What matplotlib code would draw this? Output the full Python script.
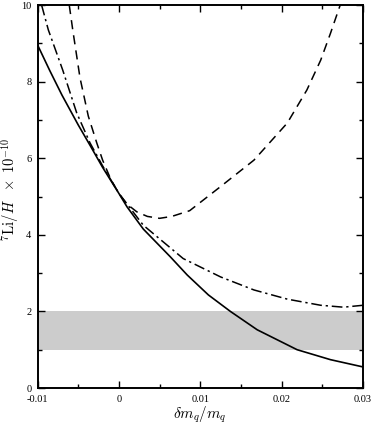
import matplotlib
matplotlib.use("Agg")
import matplotlib.pyplot as plt
from matplotlib.ticker import MultipleLocator, FixedLocator

plt.rcParams['font.family'] = ['Liberation Serif', 'DejaVu Serif']
plt.rcParams['mathtext.fontset'] = 'cm'

# data
solid_x = [-0.01, -0.0085, -0.007, -0.005, -0.0035, -0.002, 0.0, 0.001, 0.003,
           0.0063, 0.0084, 0.011, 0.0137, 0.017, 0.0219, 0.026, 0.03]
solid_y = [8.96, 8.29, 7.65, 6.87, 6.32, 5.76, 5.08, 4.73, 4.15,
           3.43, 2.95, 2.43, 2.0, 1.52, 1.0, 0.74, 0.55]

dashed_x = [-0.0061, -0.00567, -0.00478, -0.00376, -0.00272, -0.002, -0.001, 0.0,
            0.001, 0.0022, 0.0035, 0.005, 0.0065, 0.0087, 0.0125, 0.0166, 0.0207,
            0.0231, 0.0248, 0.026, 0.0272]
dashed_y = [10.0, 9.35, 8.1, 7.1, 6.4, 5.95, 5.45, 5.08,
            4.8, 4.6, 4.48, 4.43, 4.48, 4.63, 5.26, 5.95, 6.92,
            7.78, 8.56, 9.26, 10.0]

dashdot_x = [-0.0095, -0.00867, -0.0069, -0.00518, -0.00355, -0.002, 0.0, 0.003,
             0.0079, 0.0125, 0.0166, 0.0207, 0.0248, 0.0276, 0.03]
dashdot_y = [10.0, 9.35, 8.3, 7.18, 6.4, 5.8, 5.08, 4.25,
             3.38, 2.9, 2.56, 2.32, 2.16, 2.11, 2.16]

band_low, band_high = 1.0, 2.0
xticks = [-0.01, 0.0, 0.01, 0.02, 0.03]
xticklabels = ['-0.01', '0', '0.01', '0.02', '0.03']
yticks = [0, 2, 4, 6, 8, 10]

fig = plt.figure(figsize=(3.74, 4.24), dpi=100)
ax = fig.add_axes([0.1003, 0.0849, 0.8703, 0.9033])

ax.axhspan(band_low, band_high, color='#cccccc', lw=0, zorder=0)
ax.plot(solid_x, solid_y, color='black', lw=1.2, zorder=3)
ax.plot(dashed_x, dashed_y, color='black', lw=1.1, dashes=(6, 4), zorder=3)
ax.plot(dashdot_x, dashdot_y, color='black', lw=1.1, dashes=(7, 2.5, 1.5, 2.5), zorder=3)

ax.set_xlim(-0.01, 0.03)
ax.set_ylim(0, 10)
ax.xaxis.set_major_locator(FixedLocator(xticks))
ax.set_xticklabels(xticklabels)
ax.xaxis.set_minor_locator(MultipleLocator(0.005))
ax.set_yticks(yticks)
ax.yaxis.set_minor_locator(MultipleLocator(1))

ax.tick_params(which='both', direction='in', top=True, right=True, labelsize=7.5, width=1.0)
ax.tick_params(which='major', length=5)
ax.tick_params(axis='x', which='major', pad=5)
ax.tick_params(axis='y', which='major', pad=4.5)
ax.tick_params(which='minor', length=3)
for s in ax.spines.values():
    s.set_linewidth(1.4)

ax.set_xlabel(r'$\delta m_q/m_q$', fontsize=11)
ax.xaxis.set_label_coords(0.5, -0.043)
ax.set_ylabel(r'${}^7\mathrm{Li}/H\ \ \times\ 10^{-10}$', fontsize=10.5)
ax.yaxis.set_label_coords(-0.05, 0.52)

fig.savefig('out.png', dpi=100)
